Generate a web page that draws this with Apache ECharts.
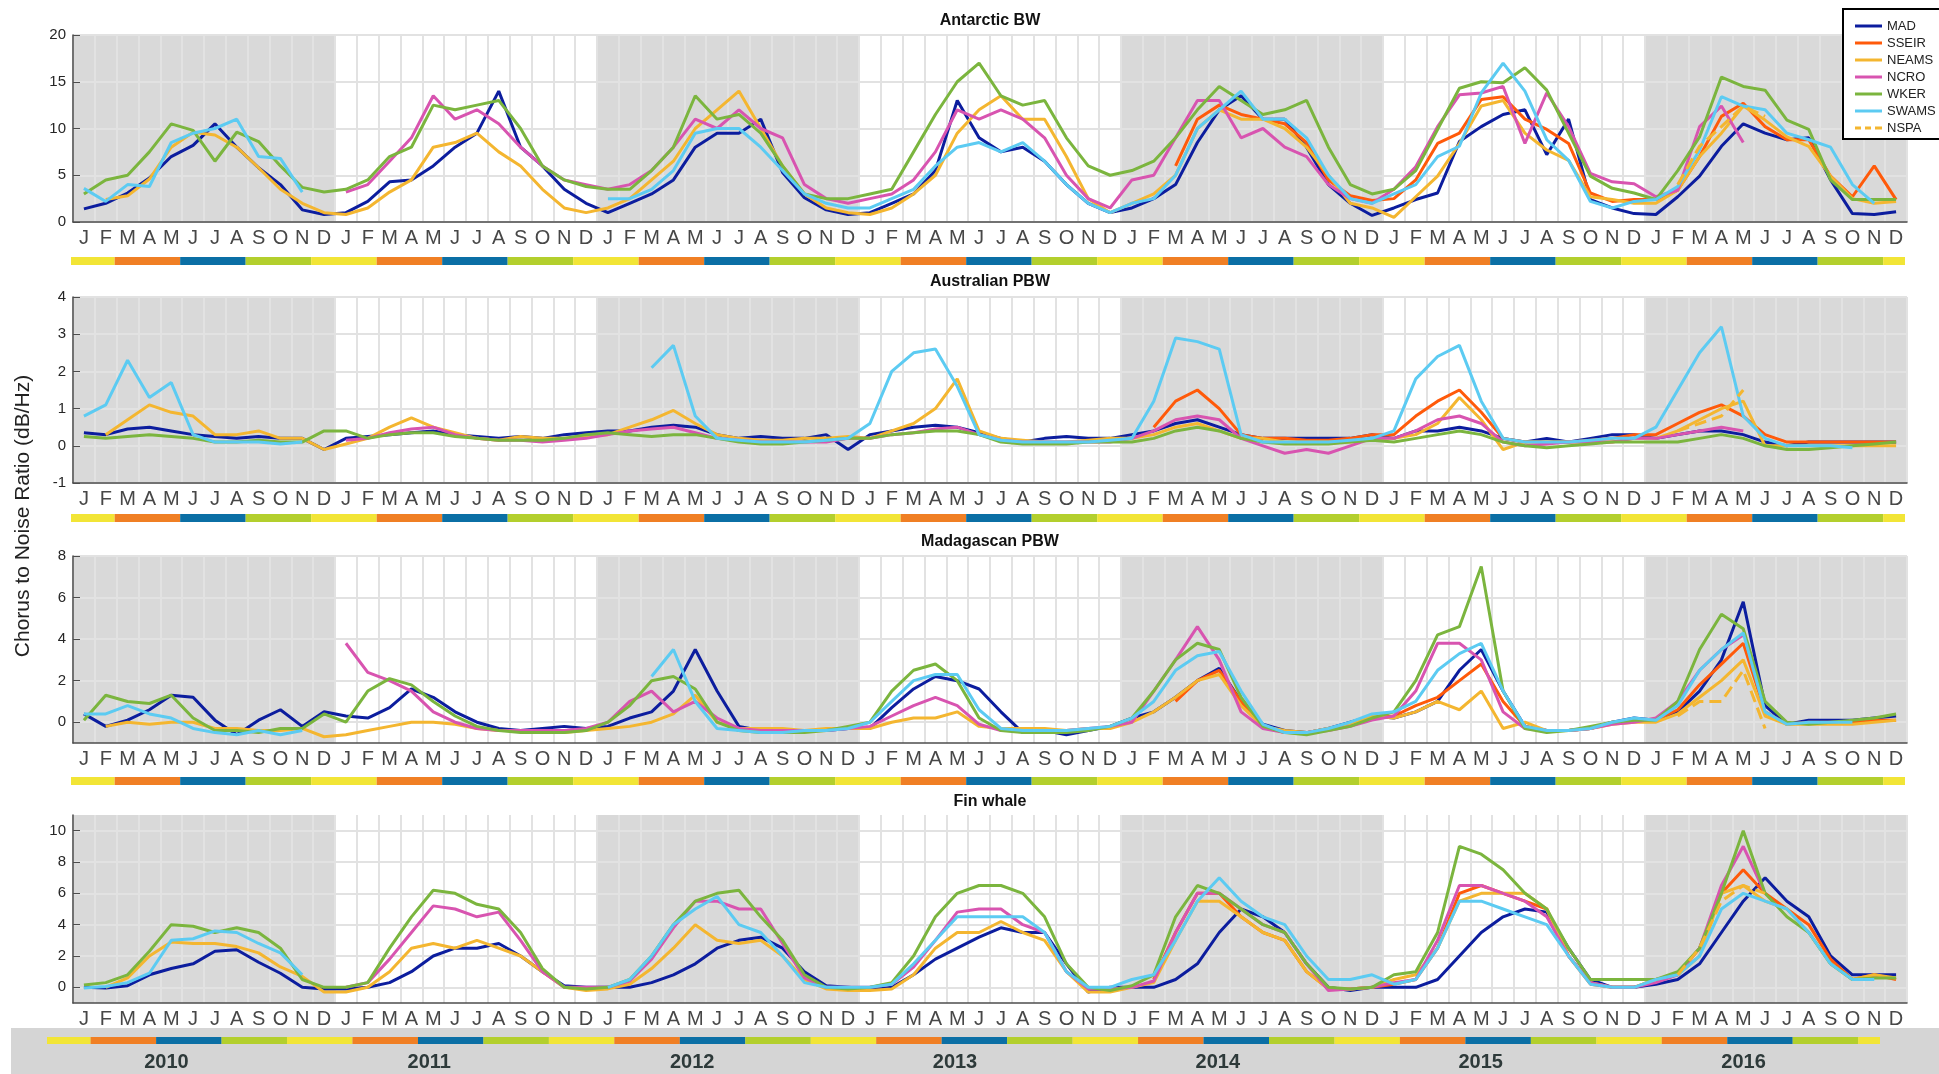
<!DOCTYPE html>
<html><head><meta charset="utf-8">
<script src="https://cdn.jsdelivr.net/npm/echarts/dist/echarts.min.js"></script>
<style>html,body{margin:0;padding:0;background:#fff;}#c{width:1939px;height:1074px;}</style>
</head><body><div id="c"></div>
<script>
const N = null;
const monthLetters = ['J','F','M','A','M','J','J','A','S','O','N','D'];
const years = ['2010','2011','2012','2013','2014','2015','2016'];
const seriesNames = ['MAD','SSEIR','NEAMS','NCRO','WKER','SWAMS','NSPA'];
const monthSeason = ['DJF','DJF','MAM','MAM','MAM','JJA','JJA','JJA','SON','SON','SON','DJF'];
const shadedYears = [0, 2, 4, 6];

// ---------- Antarctic BW ----------
const AB_MAD = [
1.4,2.0,3.1,4.7,7.0,8.2,10.5,8.0,5.8,4.0,1.3,0.8,
1.0,2.2,4.3,4.5,6.0,8.0,9.5,14.0,8.0,6.0,3.5,2.0,
1.0,2.0,3.0,4.5,8.0,9.5,9.5,11.0,5.3,2.6,1.3,0.8,
1.0,2.0,3.0,5.5,13.0,9.0,7.5,8.0,6.5,4.0,2.0,1.0,
1.5,2.5,4.0,8.5,12.0,13.5,11.0,11.0,8.0,4.0,2.0,0.7,
1.5,2.4,3.1,8.6,10.2,11.5,12.0,7.2,11.0,2.4,1.5,0.9,
0.8,2.7,4.9,8.1,10.5,9.5,8.8,9.0,4.5,0.9,0.8,1.1];
const AB_SSEIR = [
N,N,N,N,N,N,N,N,N,N,N,N,
N,N,N,N,N,N,N,N,N,N,N,N,
N,N,N,N,N,N,N,N,N,N,N,N,
N,N,N,N,N,N,N,N,N,N,N,N,
N,N,6.0,11.0,12.5,11.5,11.0,10.5,8.5,4.5,2.8,2.3,
2.5,4.5,8.4,9.5,13.1,13.4,11.0,9.9,8.4,3.1,2.2,2.4,
2.4,3.4,7.0,11.3,12.7,10.2,8.8,8.8,4.9,2.7,6.0,2.4];
const AB_NEAMS = [
N,2.4,2.8,4.6,8.0,9.6,9.3,8.0,5.8,3.5,2.0,1.0,
0.8,1.5,3.2,4.5,8.0,8.5,9.5,7.5,6.0,3.5,1.5,1.0,
1.5,2.5,4.5,6.5,10.0,12.0,14.0,10.0,6.0,3.0,1.5,1.0,
0.8,1.5,3.0,5.0,9.5,12.0,13.5,11.0,11.0,7.0,2.5,1.0,
2.0,3.0,5.0,10.0,12.0,11.0,11.0,10.0,8.0,5.0,2.0,1.5,
0.5,2.7,4.9,8.4,12.4,13.0,9.5,7.7,6.6,2.7,2.4,2.0,
2.0,3.4,7.0,9.5,12.4,10.9,9.1,8.1,4.9,2.5,2.0,2.2];
const AB_NCRO = [
N,N,N,N,N,N,N,N,N,N,N,N,
3.2,4.0,6.5,9.0,13.5,11.0,12.0,10.5,8.0,6.0,4.5,4.0,
3.5,4.0,5.5,8.0,11.0,10.0,12.0,10.0,9.0,4.0,2.5,2.0,
2.5,3.0,4.5,7.5,12.0,11.0,12.0,11.0,9.0,5.0,2.5,1.5,
4.5,5.0,9.0,13.0,13.0,9.0,10.0,8.0,7.0,4.0,2.5,2.0,
3.5,5.9,10.2,13.6,13.8,14.5,8.4,13.8,10.2,5.2,4.3,4.1,
2.7,3.4,10.2,12.4,8.5,N,N,N,N,N,N,N];
const AB_WKER = [
3.0,4.5,5.0,7.5,10.5,9.8,6.5,9.6,8.6,6.0,3.7,3.2,
3.5,4.5,7.0,8.0,12.5,12.0,12.5,13.0,10.0,6.0,4.5,3.8,
3.5,3.5,5.5,8.0,13.5,11.0,11.5,9.5,6.0,3.0,2.5,2.5,
3.0,3.5,7.5,11.5,15.0,17.0,13.5,12.5,13.0,9.0,6.0,5.0,
5.5,6.5,9.0,12.0,14.5,13.0,11.5,12.0,13.0,8.0,4.0,3.0,
3.5,5.5,9.9,14.3,15.0,14.9,16.5,14.1,9.5,4.9,3.6,3.1,
2.4,5.5,9.1,15.5,14.5,14.1,10.9,9.9,4.5,2.4,2.4,2.4];
const AB_SWAMS = [
3.6,2.2,4.0,3.8,8.5,9.5,10.0,11.0,7.0,6.8,3.2,N,
N,N,N,N,N,N,N,N,N,N,N,N,
2.5,2.5,3.5,5.5,9.5,10.0,10.0,8.0,5.5,3.0,2.0,1.5,
1.5,2.5,3.5,6.0,8.0,8.5,7.5,8.5,6.5,4.0,2.0,1.0,
2.0,2.5,5.0,10.0,12.0,14.0,11.0,11.0,9.0,5.0,2.5,2.0,
3.0,4.0,7.0,8.1,13.8,17.0,14.0,8.8,6.6,2.2,1.5,2.2,
2.4,3.8,7.7,13.4,12.4,12.0,9.5,8.8,8.0,4.0,2.0,N];
const AB_NSPA = [
N,N,N,N,N,N,N,N,N,N,N,N,
N,N,N,N,N,N,N,N,N,N,N,N,
N,N,N,N,N,N,N,N,N,N,N,N,
N,N,N,N,N,N,N,N,N,N,N,N,
N,N,N,N,N,N,N,N,N,N,N,N,
N,N,N,N,N,N,N,N,N,N,N,N,
N,4.0,8.1,10.2,12.4,11.3,N,N,N,N,N,N];

// ---------- Australian PBW ----------
const AP_MAD = [
0.35,0.3,0.45,0.5,0.4,0.3,0.25,0.2,0.25,0.2,0.2,-0.1,
0.2,0.25,0.3,0.35,0.4,0.3,0.25,0.2,0.25,0.2,0.3,0.35,
0.4,0.4,0.5,0.55,0.5,0.3,0.2,0.25,0.2,0.2,0.3,-0.1,
0.3,0.4,0.5,0.55,0.5,0.35,0.2,0.1,0.2,0.25,0.2,0.2,
0.3,0.4,0.6,0.7,0.5,0.3,0.2,0.2,0.2,0.2,0.2,0.3,
0.2,0.4,0.4,0.5,0.4,0.2,0.1,0.2,0.1,0.2,0.3,0.3,
0.2,0.3,0.4,0.4,0.3,0.1,0.0,0.1,0.1,0.1,0.1,0.1];
const AP_SSEIR = [
N,N,N,N,N,N,N,N,N,N,N,N,
N,N,N,N,N,N,N,N,N,N,N,N,
N,N,N,N,N,N,N,N,N,N,N,N,
N,N,N,N,N,N,N,N,N,N,N,N,
N,0.5,1.2,1.5,1.0,0.3,0.2,0.2,0.15,0.15,0.2,0.3,
0.3,0.8,1.2,1.5,0.9,0.2,0.1,0.1,0.1,0.15,0.2,0.3,
0.3,0.6,0.9,1.1,0.8,0.3,0.1,0.1,0.1,0.1,0.1,0.1];
const AP_NEAMS = [
N,0.3,0.7,1.1,0.9,0.8,0.3,0.3,0.4,0.2,0.2,-0.1,
0.05,0.2,0.5,0.75,0.5,0.35,0.2,0.15,0.25,0.2,0.2,0.25,
0.3,0.5,0.7,0.95,0.6,0.3,0.2,0.15,0.15,0.2,0.2,0.25,
0.2,0.4,0.6,1.0,1.8,0.4,0.2,0.15,0.1,0.1,0.15,0.2,
0.2,0.3,0.5,0.6,0.4,0.2,0.2,0.1,0.1,0.1,0.1,0.2,
0.2,0.3,0.6,1.3,0.7,-0.1,0.1,0.1,0.1,0.1,0.1,0.2,
0.2,0.4,0.7,1.0,1.2,0.0,0.0,0.0,0.0,0.0,0.0,0.0];
const AP_NCRO = [
N,N,N,N,N,N,N,N,N,N,N,N,
0.15,0.2,0.35,0.45,0.5,0.3,0.2,0.15,0.15,0.1,0.15,0.2,
0.3,0.4,0.45,0.5,0.35,0.2,0.15,0.1,0.1,0.1,0.1,0.2,
0.2,0.3,0.35,0.45,0.5,0.3,0.15,0.1,0.1,0.1,0.1,0.1,
0.2,0.4,0.7,0.8,0.7,0.2,0.0,-0.2,-0.1,-0.2,0.0,0.2,
0.2,0.4,0.7,0.8,0.6,0.1,0.0,0.05,0.1,0.1,0.1,0.2,
0.2,0.3,0.4,0.5,0.4,N,N,N,N,N,N,N];
const AP_WKER = [
0.25,0.2,0.25,0.3,0.25,0.2,0.1,0.1,0.15,0.1,0.1,0.4,
0.4,0.2,0.3,0.35,0.35,0.25,0.2,0.15,0.15,0.15,0.2,0.3,
0.35,0.3,0.25,0.3,0.3,0.2,0.1,0.05,0.05,0.1,0.15,0.2,
0.2,0.3,0.35,0.4,0.4,0.3,0.1,0.05,0.05,0.05,0.1,0.1,
0.1,0.2,0.4,0.5,0.4,0.2,0.1,0.05,0.05,0.05,0.1,0.15,
0.1,0.2,0.3,0.4,0.3,0.1,0.0,-0.05,0.0,0.05,0.1,0.1,
0.1,0.1,0.2,0.3,0.2,0.0,-0.1,-0.1,-0.05,0.0,0.05,0.1];
const AP_SWAMS = [
0.8,1.1,2.3,1.3,1.7,0.3,0.1,0.1,0.1,0.05,0.1,N,
N,N,N,N,N,N,N,N,N,N,N,N,
N,N,2.1,2.7,0.8,0.2,0.15,0.1,0.1,0.1,0.15,0.2,
0.6,2.0,2.5,2.6,1.6,0.3,0.15,0.1,0.1,0.1,0.1,0.15,
0.2,1.2,2.9,2.8,2.6,0.3,0.1,0.1,0.1,0.1,0.15,0.2,
0.4,1.8,2.4,2.7,1.2,0.2,0.1,0.1,0.1,0.15,0.2,0.2,
0.5,1.5,2.5,3.2,0.8,0.2,0.0,0.0,0.0,-0.05,N,N];
const AP_NSPA = [
N,N,N,N,N,N,N,N,N,N,N,N,
N,N,N,N,N,N,N,N,N,N,N,N,
N,N,N,N,N,N,N,N,N,N,N,N,
N,N,N,N,N,N,N,N,N,N,N,N,
N,N,N,N,N,N,N,N,N,N,N,N,
N,N,N,N,N,N,N,N,N,N,N,N,
N,0.4,0.6,0.8,1.5,N,N,N,N,N,N,N];

// ---------- Madagascan PBW ----------
const MP_MAD = [
0.4,-0.2,0.1,0.6,1.3,1.2,0.1,-0.6,0.1,0.6,-0.2,0.5,
0.3,0.2,0.7,1.6,1.2,0.5,0.0,-0.3,-0.4,-0.3,-0.2,-0.3,
-0.2,0.2,0.5,1.5,3.5,1.5,-0.2,-0.4,-0.4,-0.4,-0.4,-0.3,
-0.3,0.7,1.6,2.2,2.0,1.6,0.5,-0.5,-0.4,-0.6,-0.4,-0.2,
0.2,0.5,1.2,2.0,2.6,1.0,-0.1,-0.4,-0.5,-0.3,0.0,0.3,
0.2,0.5,1.0,2.5,3.5,1.5,-0.2,-0.4,-0.4,-0.3,0.0,0.2,
0.1,0.5,1.5,3.0,5.8,0.8,-0.1,0.1,0.1,0.1,0.2,0.3];
const MP_SSEIR = [
N,N,N,N,N,N,N,N,N,N,N,N,
N,N,N,N,N,N,N,N,N,N,N,N,
N,N,N,N,N,N,N,N,N,N,N,N,
N,N,N,N,N,N,N,N,N,N,N,N,
N,N,1.0,2.0,2.5,1.0,-0.2,-0.5,-0.5,-0.3,-0.1,0.2,
0.3,0.8,1.2,2.0,2.8,1.0,-0.2,-0.4,-0.4,-0.3,0.0,0.1,
0.1,0.6,1.8,2.8,3.8,0.5,-0.1,0.0,0.0,0.0,0.1,0.1];
const MP_NEAMS = [
N,-0.2,0.0,-0.1,0.0,0.0,-0.3,-0.3,-0.4,-0.4,-0.3,-0.7,
-0.6,-0.4,-0.2,0.0,0.0,-0.1,-0.3,-0.4,-0.4,-0.5,-0.5,-0.4,
-0.3,-0.2,0.0,0.4,1.3,0.0,-0.3,-0.3,-0.3,-0.4,-0.3,-0.3,
-0.3,0.0,0.2,0.2,0.5,-0.2,-0.3,-0.3,-0.3,-0.4,-0.3,-0.3,
0.0,0.5,1.2,2.0,2.3,0.8,-0.2,-0.4,-0.5,-0.3,-0.1,0.3,
0.2,0.5,1.0,0.6,1.5,-0.3,0.0,-0.4,-0.4,-0.3,-0.1,0.0,
0.0,0.4,1.2,2.0,3.0,0.3,-0.1,-0.1,-0.1,-0.1,0.0,0.1];
const MP_NCRO = [
N,N,N,N,N,N,N,N,N,N,N,N,
3.8,2.4,2.0,1.5,0.5,0.0,-0.3,-0.4,-0.4,-0.4,-0.4,-0.3,
0.0,1.0,1.5,0.5,1.0,0.2,-0.3,-0.4,-0.4,-0.4,-0.4,-0.3,
-0.2,0.3,0.8,1.2,0.8,-0.1,-0.4,-0.4,-0.4,-0.4,-0.3,-0.2,
0.0,1.5,3.0,4.6,3.0,0.5,-0.3,-0.5,-0.5,-0.4,-0.2,0.1,
0.3,1.5,3.8,3.8,3.0,0.5,-0.3,-0.4,-0.4,-0.3,-0.1,0.0,
0.2,1.0,2.5,3.5,4.2,N,N,N,N,N,N,N];
const MP_WKER = [
0.1,1.3,1.0,0.9,1.3,0.2,-0.4,-0.4,-0.5,-0.3,-0.3,0.4,
0.0,1.5,2.1,1.8,1.0,0.3,-0.2,-0.4,-0.5,-0.5,-0.5,-0.4,
0.0,0.8,2.0,2.2,1.6,0.0,-0.4,-0.5,-0.5,-0.5,-0.4,-0.2,
0.0,1.5,2.5,2.8,2.0,0.2,-0.4,-0.5,-0.5,-0.5,-0.4,-0.2,
0.2,1.5,3.0,3.8,3.5,1.2,-0.2,-0.5,-0.6,-0.4,-0.2,0.2,
0.5,2.0,4.2,4.6,7.5,1.5,-0.3,-0.5,-0.4,-0.2,0.0,0.1,
0.1,1.0,3.5,5.2,4.5,1.0,0.0,-0.1,0.0,0.1,0.2,0.4];
const MP_SWAMS = [
0.4,0.4,0.8,0.4,0.2,-0.3,-0.5,-0.6,-0.4,-0.6,-0.4,N,
N,N,N,N,N,N,N,N,N,N,N,N,
N,N,2.2,3.5,1.0,-0.3,-0.4,-0.5,-0.5,-0.4,-0.4,-0.3,
0.0,1.0,2.0,2.3,2.3,0.6,-0.3,-0.4,-0.4,-0.4,-0.3,-0.2,
0.2,1.0,2.5,3.2,3.4,1.5,-0.1,-0.5,-0.5,-0.3,0.0,0.4,
0.5,1.0,2.5,3.3,3.8,1.5,-0.2,-0.4,-0.4,-0.3,0.0,0.2,
0.1,0.8,2.5,3.5,4.3,0.5,-0.1,0.0,0.0,0.0,N,N];
const MP_NSPA = [
N,N,N,N,N,N,N,N,N,N,N,N,
N,N,N,N,N,N,N,N,N,N,N,N,
N,N,N,N,N,N,N,N,N,N,N,N,
N,N,N,N,N,N,N,N,N,N,N,N,
N,N,N,N,N,N,N,N,N,N,N,N,
N,N,N,N,N,N,N,N,N,N,N,N,
N,0.3,1.0,1.0,2.5,-0.3,N,N,N,N,N,N];

// ---------- Fin whale ----------
const FW_MAD = [
0.0,-0.05,0.1,0.8,1.2,1.5,2.3,2.4,1.6,0.9,0.0,-0.1,
-0.1,0.0,0.3,1.0,2.0,2.5,2.5,2.8,2.0,1.0,0.1,0.0,
0.0,0.0,0.3,0.8,1.5,2.5,3.0,3.2,2.5,1.0,0.1,0.0,
-0.1,0.0,0.8,1.8,2.5,3.2,3.8,3.5,3.5,1.5,-0.3,0.0,
0.0,0.0,0.5,1.5,3.5,5.0,4.5,3.5,1.5,0.0,-0.2,0.0,
0.0,0.0,0.5,2.0,3.5,4.5,5.0,4.8,2.5,0.5,0.0,0.0,
0.2,0.5,1.5,3.5,5.5,7.0,5.5,4.5,2.0,0.8,0.8,0.8];
const FW_SSEIR = [
N,N,N,N,N,N,N,N,N,N,N,N,
N,N,N,N,N,N,N,N,N,N,N,N,
N,N,N,N,N,N,N,N,N,N,N,N,
N,N,N,N,N,N,N,N,N,N,N,N,
N,0.5,3.5,6.0,6.0,4.5,3.5,3.0,1.0,-0.1,-0.1,0.0,
0.2,0.5,2.5,6.0,6.5,6.0,5.5,5.0,2.0,0.2,0.0,0.0,
0.5,0.8,2.5,6.0,7.5,6.0,5.0,4.0,1.8,0.5,0.8,0.5];
const FW_NEAMS = [
N,0.0,0.6,2.0,2.9,2.8,2.8,2.6,2.2,1.3,0.7,-0.3,
-0.3,0.0,1.0,2.5,2.8,2.5,3.0,2.5,2.0,1.0,0.0,-0.2,
-0.1,0.2,1.2,2.5,4.0,3.0,2.8,3.0,2.0,0.5,-0.1,-0.2,
-0.2,-0.1,0.8,2.5,3.5,3.5,4.2,3.5,3.0,1.0,-0.3,-0.3,
0.0,0.3,3.0,5.5,5.5,4.5,3.5,3.0,1.0,-0.1,-0.1,0.0,
0.5,0.8,2.5,5.5,6.0,6.0,6.0,5.0,2.0,0.3,0.0,0.0,
0.5,0.8,2.0,6.0,6.5,5.5,5.0,3.5,1.5,0.5,0.8,0.6];
const FW_NCRO = [
N,N,N,N,N,N,N,N,N,N,N,N,
0.0,0.3,1.8,3.5,5.2,5.0,4.5,4.8,3.0,1.0,0.0,0.0,
0.0,0.4,1.8,3.8,5.5,5.5,5.0,5.0,2.8,0.6,0.0,0.0,
0.0,0.2,1.3,3.0,4.8,5.0,5.0,4.0,3.5,1.0,-0.1,-0.1,
0.0,0.4,3.5,6.0,6.0,5.0,4.0,3.5,1.5,-0.2,-0.1,0.0,
0.3,0.5,3.0,6.5,6.5,6.0,5.5,4.5,2.0,0.3,0.0,0.0,
0.3,0.8,2.5,6.5,9.0,6.0,N,N,N,N,N,N];
const FW_WKER = [
0.15,0.3,0.8,2.3,4.0,3.9,3.5,3.8,3.5,2.5,0.5,0.0,
0.0,0.3,2.5,4.5,6.2,6.0,5.3,5.0,3.5,1.2,0.0,-0.1,
0.0,0.5,2.0,4.0,5.5,6.0,6.2,4.5,3.0,0.8,0.0,-0.1,
0.0,0.3,2.0,4.5,6.0,6.5,6.5,6.0,4.5,1.5,0.0,-0.2,
0.1,0.8,4.5,6.5,6.0,5.0,4.0,3.5,1.5,0.0,-0.1,0.0,
0.8,1.0,3.5,9.0,8.5,7.5,6.0,5.0,2.5,0.5,0.5,0.5,
0.5,1.0,2.5,6.0,10.0,6.0,4.5,3.5,1.5,0.5,0.6,0.6];
const FW_SWAMS = [
-0.05,0.05,0.3,0.9,3.0,3.1,3.6,3.5,2.8,2.2,0.8,N,
N,N,N,N,N,N,N,N,N,N,N,N,
0.0,0.5,2.0,4.0,5.0,5.8,4.0,3.5,2.0,0.3,0.0,0.0,
0.0,0.2,1.5,3.0,4.5,4.5,4.5,4.5,3.5,1.0,0.0,0.0,
0.5,0.8,3.0,5.5,7.0,5.5,4.5,4.0,2.0,0.5,0.5,0.8,
0.2,0.5,2.5,5.5,5.5,5.0,4.5,4.0,2.0,0.2,0.0,0.0,
0.5,0.8,2.0,5.0,6.0,5.5,5.0,3.5,1.5,0.5,0.5,N];
const FW_NSPA = [
N,N,N,N,N,N,N,N,N,N,N,N,
N,N,N,N,N,N,N,N,N,N,N,N,
N,N,N,N,N,N,N,N,N,N,N,N,
N,N,N,N,N,N,N,N,N,N,N,N,
N,N,N,N,N,N,N,N,N,N,N,N,
N,N,N,N,N,N,N,N,N,N,N,N,
N,0.8,2.5,5.5,6.5,6.0,N,N,N,N,N,N];

// ---------- styling / layout ----------
const FONT = '"Liberation Sans", Arial, Helvetica, sans-serif';
const seriesColors = {MAD:'#0c1d9e', SSEIR:'#ff5a0a', NEAMS:'#f4b630', NCRO:'#d854b0', WKER:'#7bb53e', SWAMS:'#5ccbf2', NSPA:'#f4b630'};
const seasonColors = {DJF:'#f2e536', MAM:'#f07f24', JJA:'#0b6fa5', SON:'#b3cf2d'};
const LINE_ICON = 'path://M0,0L27,0L27,3L0,3Z';
const DASH_ICON = 'path://M0,0h6v3h-6zM10,0h6v3h-6zM20,0h7v3h-7z';

const panels = [
  {title:'Antarctic BW', titleTop:8, top:35, bottom:222, min:0, max:20, interval:5,
   data:{MAD:AB_MAD, SSEIR:AB_SSEIR, NEAMS:AB_NEAMS, NCRO:AB_NCRO, WKER:AB_WKER, SWAMS:AB_SWAMS, NSPA:AB_NSPA}},
  {title:'Australian PBW', titleTop:269, top:297, bottom:483, min:-1, max:4, interval:1,
   data:{MAD:AP_MAD, SSEIR:AP_SSEIR, NEAMS:AP_NEAMS, NCRO:AP_NCRO, WKER:AP_WKER, SWAMS:AP_SWAMS, NSPA:AP_NSPA}},
  {title:'Madagascan PBW', titleTop:529, top:556, bottom:743, min:-1, max:8, ticks:[0,2,4,6,8],
   data:{MAD:MP_MAD, SSEIR:MP_SSEIR, NEAMS:MP_NEAMS, NCRO:MP_NCRO, WKER:MP_WKER, SWAMS:MP_SWAMS, NSPA:MP_NSPA}},
  {title:'Fin whale', titleTop:789, top:815, bottom:1003, min:-1, max:11, ticks:[0,2,4,6,8,10],
   data:{MAD:FW_MAD, SSEIR:FW_SSEIR, NEAMS:FW_NEAMS, NCRO:FW_NCRO, WKER:FW_WKER, SWAMS:FW_SWAMS, NSPA:FW_NSPA}}
];
const seasonGrids = [
  {left:71, right:34, top:257, height:8},
  {left:71, right:34, top:514, height:8},
  {left:71, right:34, top:777, height:8},
  {left:47, right:59, top:1037, height:7}
];

const nMonths = years.length * 12;
const monthCats = [];
for (let i = 0; i < nMonths; i++) monthCats.push('m' + i);

const seasonSegments = [];
for (let m = 0; m < nMonths; m++) {
  const s = monthSeason[m % 12];
  const last = seasonSegments[seasonSegments.length - 1];
  if (last && last.season === s) last.end = m + 1;
  else seasonSegments.push({season: s, start: m, end: m + 1});
}

const GRID_LINE = '#e2e2e2';
const AXIS_COL = '#4d4d4d';

const grids = [], xAxes = [], yAxes = [], series = [];

panels.forEach(p => grids.push({left:73, right:32, top:p.top, height:p.bottom - p.top}));
seasonGrids.forEach(g => grids.push(g));
grids.push({left:35, right:64, top:1046, height:1});

panels.forEach((p, i) => {
  xAxes.push({
    gridIndex:i, type:'category', data:monthCats, boundaryGap:true, z:1.5,
    axisLine:{onZero:false, lineStyle:{color:AXIS_COL, width:1.5}},
    axisTick:{inside:true, length:8, interval:0, lineStyle:{color:AXIS_COL}},
    axisLabel:{interval:0, fontSize:20, color:'#474747', margin:6, fontFamily:FONT,
      formatter:(v, idx) => monthLetters[idx % 12]},
    splitLine:{show:true, interval:0, lineStyle:{color:GRID_LINE, width:2}}
  });
});
panels.forEach((p, i) => xAxes.push({gridIndex:i, type:'value', min:0, max:nMonths, show:false}));
seasonGrids.forEach((g, k) => xAxes.push({gridIndex:4 + k, type:'value', min:0, max:nMonths, show:false}));
xAxes.push({gridIndex:8, type:'category', data:years, z:5,
  axisLine:{show:false}, axisTick:{show:false},
  axisLabel:{fontSize:20, fontWeight:'bold', color:'#2e3a3a', margin:5, fontFamily:FONT}});

panels.forEach((p, i) => {
  const y = {
    gridIndex:i, type:'value', min:p.min, max:p.max, z:1.5,
    axisLine:{show:true, lineStyle:{color:AXIS_COL, width:1.5}},
    axisTick:{show:true, inside:true, length:7, lineStyle:{color:AXIS_COL}},
    axisLabel:{fontSize:15, color:'#262626', margin:7, fontFamily:FONT},
    splitLine:{show:true, lineStyle:{color:GRID_LINE, width:2}}
  };
  if (p.interval) y.interval = p.interval;
  if (p.ticks) { y.axisTick.customValues = p.ticks; y.axisLabel.customValues = p.ticks; }
  yAxes.push(y);
});
seasonGrids.forEach((g, k) => yAxes.push({gridIndex:4 + k, type:'value', min:0, max:1, show:false}));
yAxes.push({gridIndex:8, type:'value', min:0, max:1, show:false});

panels.forEach((p, i) => {
  series.push({
    type:'line', xAxisIndex:4 + i, yAxisIndex:i, data:[], silent:true,
    markArea:{silent:true, itemStyle:{color:'#d9d9d9'},
      data: shadedYears.map(yi => [{xAxis: yi * 12}, {xAxis: yi * 12 + 12}])}
  });
});
seasonGrids.forEach((g, k) => {
  series.push({
    type:'line', xAxisIndex:8 + k, yAxisIndex:4 + k, data:[], silent:true,
    markArea:{silent:true,
      data: seasonSegments.map(s => [{xAxis:s.start, itemStyle:{color:seasonColors[s.season]}}, {xAxis:s.end}])}
  });
});
panels.forEach((p, i) => {
  seriesNames.forEach(name => {
    const arr = p.data[name];
    if (!arr) return;
    series.push({
      type:'line', name, xAxisIndex:i, yAxisIndex:i, data:arr,
      symbol:'none', showSymbol:false, connectNulls:false, z:3,
      lineStyle:{width:3, color:seriesColors[name], type: name === 'NSPA' ? 'dashed' : 'solid'},
      itemStyle:{color:seriesColors[name]},
      emphasis:{disabled:true}
    });
  });
});

const option = {
  animation:false,
  backgroundColor:'#ffffff',
  textStyle:{fontFamily:FONT},
  title: panels.map(p => ({text:p.title, left:985, top:p.titleTop, textAlign:'center',
    textStyle:{fontSize:16, fontWeight:'bold', color:'#111', fontFamily:FONT}})),
  legend:{
    data: seriesNames.map(n => ({name:n, icon: n === 'NSPA' ? DASH_ICON : LINE_ICON})),
    orient:'vertical', left:1843, top:9,
    padding:[10, 8, 4, 12], itemGap:3, itemWidth:27, itemHeight:3,
    backgroundColor:'#ffffff', borderColor:'#000', borderWidth:2, borderRadius:0,
    textStyle:{fontSize:13, lineHeight:14, color:'#222', fontFamily:FONT}, z:10
  },
  grid:grids, xAxis:xAxes, yAxis:yAxes, series:series,
  graphic:[
    {type:'rect', z:-10, silent:true, shape:{x:11, y:1028, width:1928, height:46}, style:{fill:'#d5d5d5'}},
    {type:'text', x:23, y:516, rotation:Math.PI / 2, silent:true,
     style:{text:'Chorus to Noise Ratio (dB/Hz)', fontSize:21, fontFamily:FONT, fill:'#222',
            align:'center', verticalAlign:'middle', textAlign:'center', textVerticalAlign:'middle'}}
  ]
};

const chart = echarts.init(document.getElementById('c'), null, {width:1939, height:1074});
chart.setOption(option);
</script>
</body></html>
